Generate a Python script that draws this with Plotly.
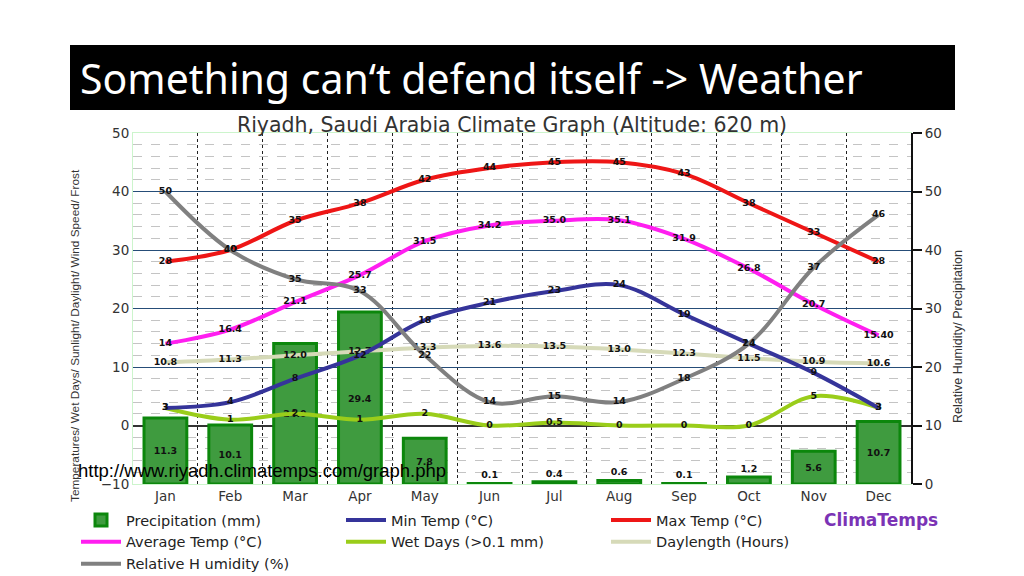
import plotly.graph_objects as go

months = ["Jan", "Feb", "Mar", "Apr", "May", "Jun", "Jul", "Aug", "Sep", "Oct", "Nov", "Dec"]
precip = [11.3, 10.1, 24.0, 29.4, 7.8, 0.1, 0.4, 0.6, 0.1, 1.2, 5.6, 10.7]
min_temp = [3, 4, 8, 12, 18, 21, 23, 24, 19, 14, 9, 3]
max_temp = [28, 30, 35, 38, 42, 44, 45, 45, 43, 38, 33, 28]
avg_temp = [14, 16.4, 21.1, 25.7, 31.5, 34.2, 35.0, 35.1, 31.9, 26.8, 20.7, 15.4]
wet_days = [3, 1, 2, 1, 2, 0, 0.5, 0, 0, 0, 5, 3]
daylength = [10.8, 11.3, 12.0, 12.7, 13.3, 13.6, 13.5, 13.0, 12.3, 11.5, 10.9, 10.6]
humidity = [50, 40, 35, 33, 22, 14, 15, 14, 18, 24, 37, 46]

precip_lbl = [f"{v:.1f}" for v in precip]
min_lbl = [str(v) for v in min_temp]
max_lbl = [str(v) for v in max_temp]
avg_lbl = ["14", "16.4", "21.1", "25.7", "31.5", "34.2", "35.0", "35.1", "31.9", "26.8", "20.7", "15.40"]
wet_lbl = ["3", "1", "2", "1", "2", "0", "0.5", "0", "0", "0", "5", "3"]
day_lbl = [f"{v:.1f}" for v in daylength]
hum_lbl = [str(v) for v in humidity]

# left axis spans -10..50, right axis 0..60 (same 60-unit span)
LEFT_MIN, LEFT_MAX = -10, 50
RIGHT_MIN, RIGHT_MAX = 0, 60

W, H = 1024, 576
L, R, T, B = 133, 911, 133, 484


def px(xp):
    return (xp - L) / (R - L)


def py(yp):
    return (B - yp) / (B - T)


x = list(range(len(months)))
lblfont = dict(family="DejaVu Sans", size=9.5, color="#111111", weight="bold")

fig = go.Figure()
# precipitation belongs to the right axis; drawn on the left axis with its base at
# the left-axis value that lines up with right-axis 0, so lines stay above the bars
fig.add_trace(go.Bar(
    x=x, y=precip, base=LEFT_MIN - RIGHT_MIN, name="Precipitation (mm)", width=0.66,
    marker=dict(color="#3f9b3f", line=dict(color="#0c870c", width=3)),
    text=precip_lbl, textposition="auto", insidetextanchor="middle",
    textfont=lblfont, insidetextfont=lblfont, outsidetextfont=lblfont,
    constraintext="none", cliponaxis=False, legendrank=1,
))


def line(y, name, color, lbl, rank, yaxis="y"):
    fig.add_trace(go.Scatter(
        x=x, y=y, name=name, mode="lines+text", yaxis=yaxis,
        line=dict(color=color, width=4, shape="spline", smoothing=1.0),
        text=lbl, textposition="middle center", textfont=lblfont,
        cliponaxis=False, legendrank=rank,
    ))


line(daylength, "Daylength (Hours)", "#d6dab8", day_lbl, 6)
line(wet_days, "Wet Days (>0.1 mm)", "#9acd1a", wet_lbl, 5)
line(min_temp, "Min Temp (°C)", "#35349a", min_lbl, 2)
line(avg_temp, "Average Temp (°C)", "#ff1ef0", avg_lbl, 4)
line(max_temp, "Max Temp (°C)", "#ee1616", max_lbl, 3)
line(humidity, "Relative H umidity (%)", "#808080", hum_lbl, 7, yaxis="y2")

tickfont = dict(family="DejaVu Sans", size=13.5, color="#333333")

fig.update_layout(
    width=W, height=H,
    margin=dict(l=L, r=W - R, t=T, b=H - B, autoexpand=False),
    paper_bgcolor="white", plot_bgcolor="white",
    showlegend=True,
    barmode="overlay",
    title=dict(text="Riyadh, Saudi Arabia Climate Graph (Altitude: 620 m)",
               x=0.5, xref="container", xanchor="center",
               y=1 - 125 / H, yref="container", yanchor="middle",
               font=dict(family="DejaVu Sans", size=20.5, color="#333333")),
    xaxis=dict(range=[-0.5, len(months) - 0.5], tickvals=x, ticktext=months, tickfont=tickfont,
               showgrid=False, zeroline=False, showline=True, linecolor="#ccf5cc",
               mirror=True, ticks="",
               minor=dict(tickvals=[i + 0.5 for i in x[:-1]], showgrid=True,
                          gridcolor="#222222", griddash="dot", gridwidth=1.3)),
    yaxis=dict(range=[LEFT_MIN, LEFT_MAX], dtick=10, tickfont=tickfont, showgrid=True,
               gridcolor="#264d78", gridwidth=1.2, zeroline=True, zerolinecolor="#333333",
               zerolinewidth=1.5, showline=True, linecolor="#ccf5cc", mirror=True,
               minor=dict(dtick=2, showgrid=True, gridcolor="#c4c4c4", griddash="dash",
                          gridwidth=1)),
    yaxis2=dict(range=[RIGHT_MIN, RIGHT_MAX], dtick=10, overlaying="y", side="right",
                tickfont=tickfont, showgrid=False, zeroline=False, showline=True,
                linecolor="#111111", linewidth=2, ticks="outside", ticklen=9, tickwidth=2,
                tickcolor="#111111"),
    legend=dict(orientation="h", xref="paper", yref="paper",
                x=px(76), y=py(504), xanchor="left", yanchor="top",
                entrywidth=210, entrywidthmode="pixels", itemwidth=40,
                font=dict(family="DejaVu Sans", size=14.5, color="#222222"),
                traceorder="normal", bgcolor="rgba(0,0,0,0)", tracegroupgap=0),
    shapes=[dict(type="rect", xref="paper", yref="paper",
                 x0=px(70), x1=px(955), y0=py(110), y1=py(45),
                 fillcolor="black", line=dict(width=0), layer="above")],
    annotations=[
        dict(text="Something can\u2018t defend itself -> Weather", xref="paper", yref="paper",
             x=px(78), y=py(78), xanchor="left", yanchor="middle", showarrow=False,
             font=dict(family="Noto Sans", size=41, color="white")),
        dict(text="Temperatures/ Wet Days/ Sunlight/ Daylight/ Wind Speed/ Frost",
             xref="paper", yref="paper", x=px(75), y=py(336), textangle=-90,
             xanchor="center", yanchor="middle", showarrow=False,
             font=dict(family="Liberation Sans", size=11.8, color="#333333")),
        dict(text="Relative Humidity/ Precipitation",
             xref="paper", yref="paper", x=px(958), y=py(337), textangle=-90,
             xanchor="center", yanchor="middle", showarrow=False,
             font=dict(family="Liberation Sans", size=12.5, color="#333333")),
        dict(text="http://www.riyadh.climatemps.com/graph.php",
             xref="paper", yref="paper", x=px(76), y=py(470),
             xanchor="left", yanchor="middle", showarrow=False,
             font=dict(family="Liberation Sans", size=18.5, color="black")),
        dict(text="<b>ClimaTemps</b>", xref="paper", yref="paper", x=px(881), y=py(520),
             xanchor="center", yanchor="middle", showarrow=False,
             font=dict(family="DejaVu Sans", size=17, color="#7b33b5")),
    ],
)

fig.write_html("out.html", config={"displayModeBar": False},
               post_script="document.body.style.margin='0';")
